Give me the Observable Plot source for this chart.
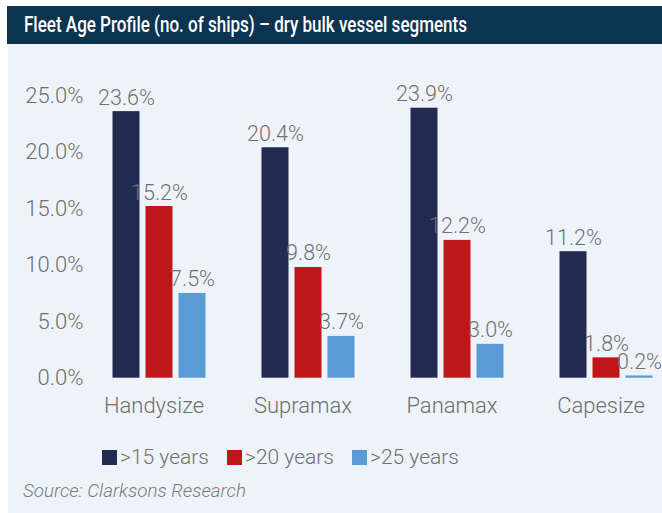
<!DOCTYPE html>
<html>
<head>
<meta charset="utf-8">
<script src="https://cdn.jsdelivr.net/npm/d3@7"></script>
<script src="https://cdn.jsdelivr.net/npm/@observablehq/plot@0.6"></script>
<style>
  html, body { margin: 0; padding: 0; background: #ffffff; }
  body { width: 662px; height: 513px; position: relative; overflow: hidden; font-family: Roboto, "Noto Sans", sans-serif; }
  #titlebar { position: absolute; left: 7px; top: 6px; width: 655px; height: 38px; background: #0c3350; overflow: hidden; }
  #title { position: absolute; left: 17px; top: 6px; color: #ffffff; font-size: 22px; font-weight: 500; white-space: nowrap; transform-origin: 0 0; line-height: 26px; }
  #panel { position: absolute; left: 8px; top: 44px; width: 654px; height: 469px; background: #eef3fa; }
  #chart { position: absolute; left: 0; top: 44px; }
  #legend { position: absolute; left: 102px; top: 445px; display: flex; align-items: center; font-size: 21px; color: #6f6f6f; font-weight: 300; }
  #legend .item { display: flex; align-items: center; margin-right: 18px; }
  #legend .sw { width: 15px; height: 15px; margin-right: 3px; }
  #source { position: absolute; left: 23px; top: 480px; font-size: 18.8px; font-style: italic; color: #7a7a7a; font-weight: 300; }
</style>
</head>
<body>
<div id="titlebar"><div id="title">Fleet Age Profile (no. of ships) – dry bulk vessel segments</div></div>
<div id="panel"></div>
<div id="chart"></div>
<div id="legend"></div>
<div id="source">Source: Clarksons Research</div>
<script>
const categories = ["Handysize", "Supramax", "Panamax", "Capesize"];
const series = [">15 years", ">20 years", ">25 years"];
const over15 = [23.6, 20.4, 23.9, 11.2];
const over20 = [15.2, 9.8, 12.2, 1.8];
const over25 = [7.5, 3.7, 3.0, 0.2];
const yTicks = [0, 5, 10, 15, 20, 25];
const colors = ["#222a52", "#bf1719", "#5b9bd5"];

const seriesValues = [over15, over20, over25];
const data = [];
categories.forEach((c, i) => {
  series.forEach((s, j) => data.push({category: c, series: s, value: seriesValues[j][i]}));
});

const textColor = "#6f6f6f";

const chart = Plot.plot({
  width: 662,
  height: 390,
  marginLeft: 103.5,
  marginRight: 2.5,
  marginTop: 51.3,
  marginBottom: 56.3,
  style: {background: "transparent", fontFamily: "Roboto, sans-serif", fontSize: "22px", color: textColor, fontWeight: 300, overflow: "visible"},
  fx: {domain: categories, paddingInner: 0.285, paddingOuter: 0, label: null},
  x: {domain: series, padding: 0.194, axis: null},
  y: {domain: [0, 25], label: null},
  color: {domain: series, range: colors},
  marks: [
    Plot.axisY({ticks: yTicks, tickFormat: d => d.toFixed(1) + "%", tickSize: 0, tickPadding: 22, label: null, fill: textColor, fontSize: 22}),
    Plot.axisFx({anchor: "bottom", tickSize: 0, tickPadding: 19, label: null, dx: -5, fill: textColor, fontSize: 22}),
    Plot.barY(data, {fx: "category", x: "series", y: "value", fill: "series"}),
    Plot.text(data, {fx: "category", x: "series", y: "value", text: d => d.value.toFixed(1) + "%", lineAnchor: "bottom", dy: -7, dx: 0, fill: textColor, fontSize: 21.5})
  ]
});
document.getElementById("chart").appendChild(chart);

const legend = document.getElementById("legend");
series.forEach((s, i) => {
  const item = document.createElement("div");
  item.className = "item";
  const sw = document.createElement("div");
  sw.className = "sw";
  sw.style.background = colors[i];
  const label = document.createElement("span");
  label.textContent = s;
  item.appendChild(sw);
  item.appendChild(label);
  legend.appendChild(item);
});

const title = document.getElementById("title");
const w = title.getBoundingClientRect().width;
title.style.transform = `scaleX(${443 / w})`;
</script>
</body>
</html>
